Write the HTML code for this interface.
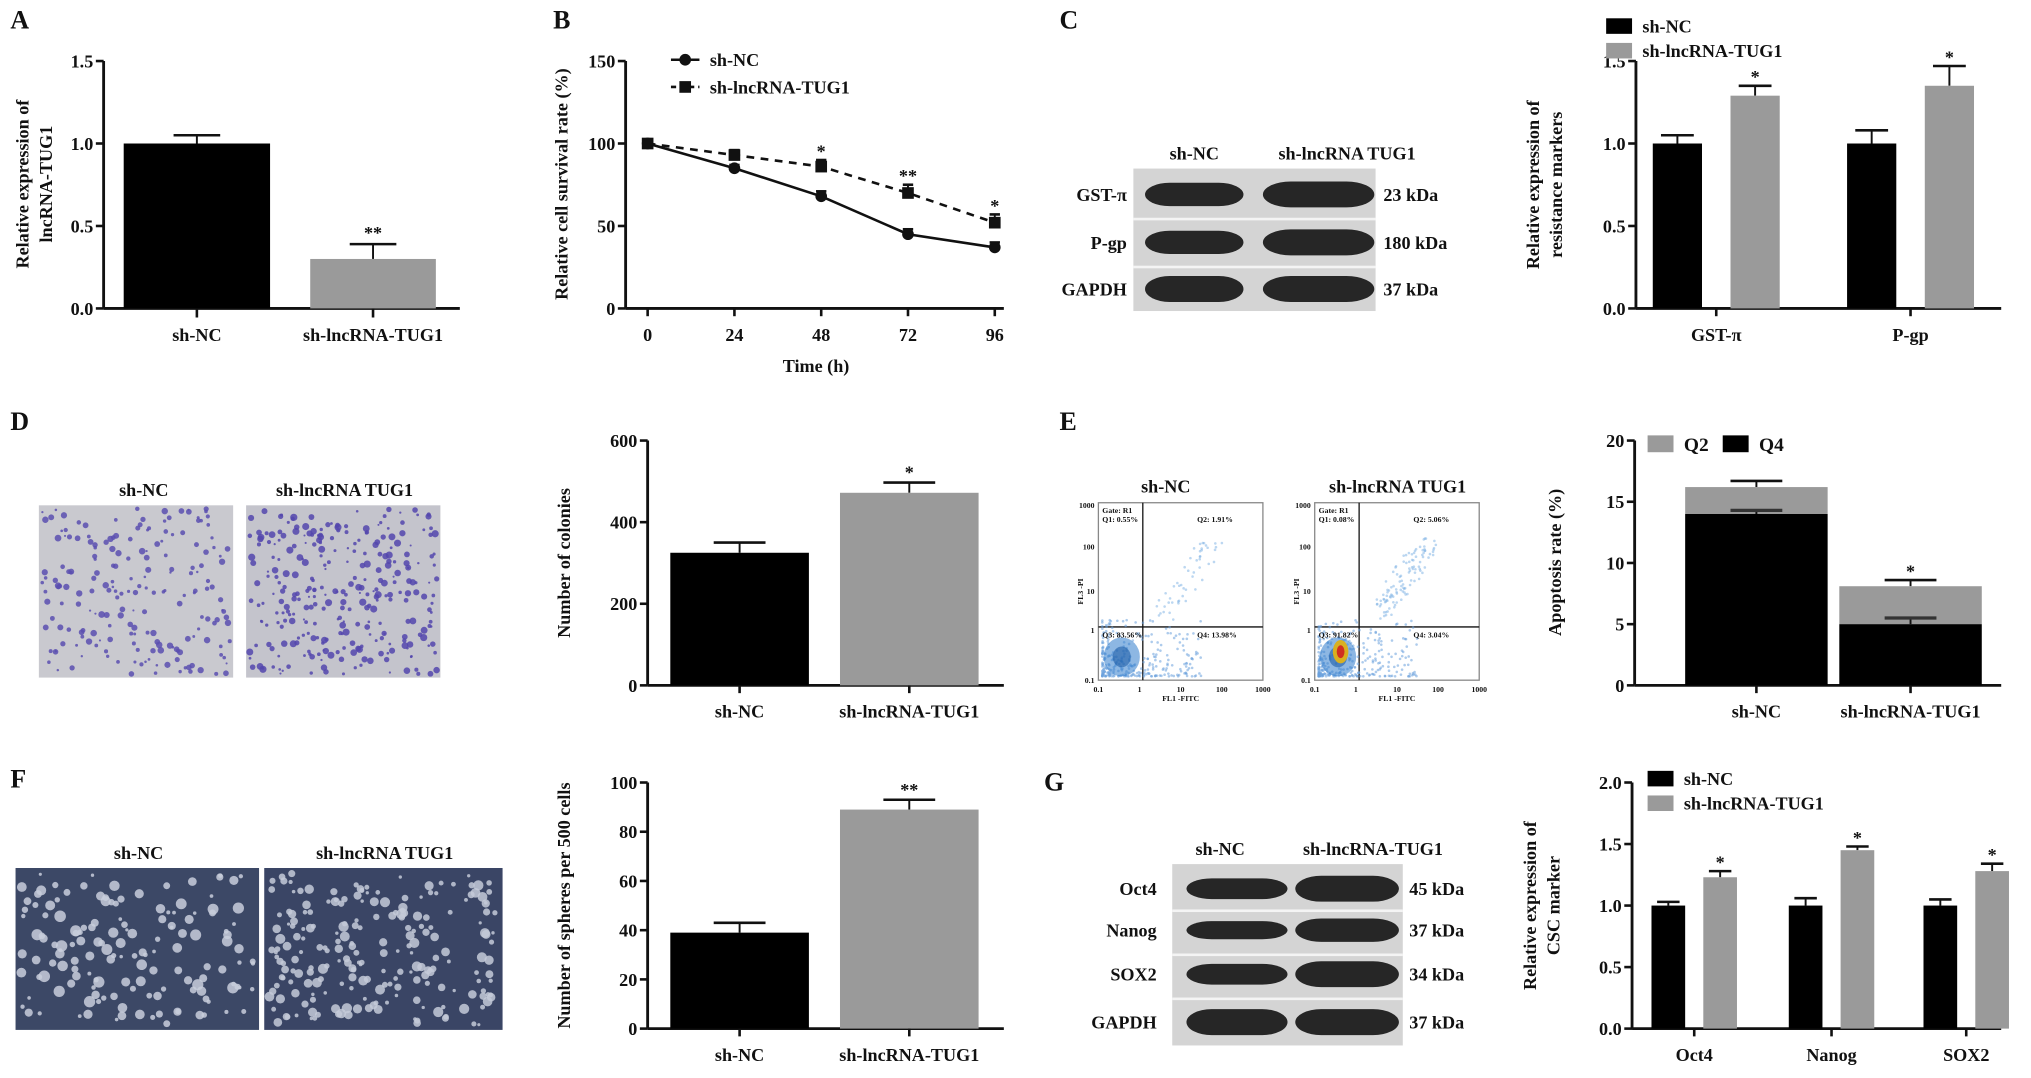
<!DOCTYPE html>
<html><head><meta charset="utf-8"><style>
html,body{margin:0;padding:0;background:#fff;}
svg{display:block;font-family:"Liberation Serif",serif;font-weight:bold;}
</style></head><body>
<svg id="fig" width="2031" height="1078" viewBox="0 0 1568 832" xmlns="http://www.w3.org/2000/svg">
<rect width="1568" height="832" fill="#fff"/>
<g id="root"></g>
</svg>
<script>
// ---- data ----
const aCats = ["sh-NC","sh-lncRNA-TUG1"];
const aVals = [1.0, 0.30];
const aErrs = [0.05, 0.09];
const aTicks = [0,0.5,1.0,1.5];

const bTimes = [0,24,48,72,96];
const bNC = [100,85,68,45,37];
const bNCerr = [2,2,3,3,3];
const bTUG = [100,93,86,70,52];
const bTUGerr = [2,3,4,5,5];
const bTicks = [0,50,100,150];
const bStars = ["","","*","**","*"];

const cGroups = ["GST-π","P-gp"];
const cNC = [1.0,1.0];
const cNCerr = [0.05,0.08];
const cTUG = [1.29,1.35];
const cTUGerr = [0.06,0.12];
const cTicks = [0,0.5,1.0,1.5];

const dCats = ["sh-NC","sh-lncRNA-TUG1"];
const dVals = [325,472];
const dErrs = [25,25];
const dTicks = [0,200,400,600];

const eCats = ["sh-NC","sh-lncRNA-TUG1"];
const eQ4 = [14.0,5.0];
const eQ4err = [0.3,0.5];
const eQ2 = [2.2,3.1];
const eTotErr = [0.5,0.5];
const eTicks = [0,5,10,15,20];

const fCats = ["sh-NC","sh-lncRNA-TUG1"];
const fVals = [39,89];
const fErrs = [4,4];
const fTicks = [0,20,40,60,80,100];

const gGroups = ["Oct4","Nanog","SOX2"];
const gNC = [1.0,1.0,1.0];
const gNCerr = [0.03,0.06,0.05];
const gTUG = [1.23,1.45,1.28];
const gTUGerr = [0.05,0.03,0.06];
const gTicks = [0,0.5,1.0,1.5,2.0];

// ---- helpers ----
const NS="http://www.w3.org/2000/svg";
const root=document.getElementById('root');
function el(tag,attrs,parent,text){const e=document.createElementNS(NS,tag);for(const k in attrs)e.setAttribute(k,attrs[k]);if(text!==undefined)e.textContent=text;(parent||root).appendChild(e);return e;}
function txt(x,y,s,size,name,anchor,parent,rot){const t=el('text',{x:x,y:y,'font-size':size,'text-anchor':anchor||'middle',fill:'#111'},parent,s);
if(rot)t.setAttribute('transform','rotate(-90 '+x+' '+y+')');

return t;}
function line(x1,y1,x2,y2,w,parent,dash){const l=el('line',{x1:x1,y1:y1,x2:x2,y2:y2,stroke:'#111','stroke-width':w||2},parent);if(dash)l.setAttribute('stroke-dasharray',dash);return l;}
function yaxis(g,x,y0,y1,ticks,max,fmt,name){
  line(x,y0,x,y1,2.2,g);
  ticks.forEach(t=>{const y=y0-(t/max)*(y0-y1);line(x-6,y,x,y,2,g);txt(x-8,y+5,fmt(t),14,name+'-tick','end',g);});
}
function errbar(g,cx,yTop,yErr,hw){line(cx,yTop,cx,yErr,1.5,g);line(cx-hw,yErr,cx+hw,yErr,2,g);}
function panelLabel(x,y,s){txt(x,y,s,20,'panel-label-'+s.toLowerCase(),'start');}

// ---- Panel A ----
(function(){
  const g=el('g',{});
  const x0=80,y0=238,y1=47,max=1.5,sy=v=>y0-v/max*(y0-y1);
  yaxis(g,x0,y0,y1,aTicks,max,v=>v.toFixed(1),'a-y');
  line(x0,y0,355,y0,2.2,g);
  const centers=[152,288],w=[113,97],fills=['#000','#9a9a9a'];
  aCats.forEach((c,i)=>{
    errbar(g,centers[i],sy(aVals[i]),sy(aVals[i]+aErrs[i]),18);
    const r=el('rect',{x:centers[i]-w[i]/2,y:sy(aVals[i]),width:w[i],height:y0-sy(aVals[i]),fill:fills[i]},g);
    
    line(centers[i],y0,centers[i],y0+7,2,g);
    txt(centers[i],263,c,14,'a-x-label',null,g);
  });
  txt(centers[1],sy(aVals[1]+aErrs[1])-4,'**',14,'a-sig',null,g);
  txt(22,142,'Relative expression of',14,'a-y-title',null,g,true);
  txt(40,142,'lncRNA-TUG1',14,'a-y-title',null,g,true);
})();
panelLabel(8,22,'A');

// ---- Panel B ----
(function(){
  const g=el('g',{});
  const x0=483,y0=238,y1=47,max=150,sy=v=>y0-v/max*(y0-y1);
  const sx=t=>500+t/96*268;
  yaxis(g,x0,y0,y1,bTicks,max,v=>String(v),'b-y');
  line(x0,y0,775,y0,2.2,g);
  bTimes.forEach(t=>{line(sx(t),y0,sx(t),y0+6,2,g);txt(sx(t),263,String(t),14,'b-x-tick',null,g);});
  txt(630,287,'Time (h)',14,'b-x-title',null,g);
  txt(438,142,'Relative cell survival rate (%)',14,'b-y-title',null,g,true);
  let p1='',p2='';
  bTimes.forEach((t,i)=>{p1+=(i?'L':'M')+sx(t)+' '+sy(bNC[i]);p2+=(i?'L':'M')+sx(t)+' '+sy(bTUG[i]);});
  const l1=el('path',{d:p1,fill:'none',stroke:'#111','stroke-width':2},g);
  const l2=el('path',{d:p2,fill:'none',stroke:'#111','stroke-width':2,'stroke-dasharray':'6 5'},g);
  bTimes.forEach((t,i)=>{
    errbar(g,sx(t),sy(bNC[i]),sy(bNC[i]+bNCerr[i]),4);
    errbar(g,sx(t),sy(bTUG[i]),sy(bTUG[i]+bTUGerr[i]),4);
    const c=el('circle',{cx:sx(t),cy:sy(bNC[i]),r:4.5,fill:'#111'},g);
    const s=el('rect',{x:sx(t)-4.5,y:sy(bTUG[i])-4.5,width:9,height:9,fill:'#111'},g);
    if(bStars[i])txt(sx(t),sy(bTUG[i]+bTUGerr[i])-2,bStars[i],14,'b-sig',null,g);
  });
  line(518,46,540,46,2,g);el('circle',{cx:529,cy:46,r:4.5,fill:'#111'},g);
  txt(548,51,'sh-NC',14,'b-legend-nc','start',g);
  line(518,67,540,67,2,g,'4 3');el('rect',{x:524.5,y:62.5,width:9,height:9,fill:'#111'},g);
  txt(548,72,'sh-lncRNA-TUG1',14,'b-legend-tug1','start',g);
})();
panelLabel(427,22,'B');

// ---- Western blot helper ----
function blot(x,y,w,h,rows,cols,bandW,thick,name,sepLines){
  const g=el('g',{});
  el('rect',{x:x,y:y,width:w,height:h,fill:'#d4d4d4'},g);
  if(sepLines)sepLines.forEach(yy=>el('rect',{x:x,y:yy,width:w,height:2,fill:'#f4f4f4'},g));
  rows.forEach((ry,i)=>cols.forEach((cx,j)=>{
    const e=el('rect',{x:cx-bandW[j]/2,y:ry-thick[i][j],width:bandW[j],height:2*thick[i][j],rx:bandW[j]/4,ry:thick[i][j],fill:'#262626'},g);
    
  }));
  return g;
}

// ---- Panel C ----
panelLabel(818,22,'C');
(function(){
  const rows=[150,187,223];
  blot(875,130,187,110,rows,[922,1018],[76,86],[[9,10],[9,10],[10,10]],'c-western-blot',[168,205]);
  txt(922,123,'sh-NC',14,'c-blot-label');
  txt(1040,123,'sh-lncRNA TUG1',14,'c-blot-label');
  ['GST-π','P-gp','GAPDH'].forEach((s,i)=>{txt(870,rows[i]+5,s,14,'c-row-label','end');});
  ['23 kDa','180 kDa','37 kDa'].forEach((s,i)=>{txt(1068,rows[i]+5,s,14,'c-kda-label','start');});
})();
function groupedChart(opts){
  const g=el('g',{});
  const {x0,y0,y1,max,ticks,fmt,groups,nc,ncErr,tug,tugErr,centers,bw,xEnd}=opts;
  const sy=v=>y0-v/max*(y0-y1);
  yaxis(g,x0,y0,y1,ticks,max,fmt,opts.name+'-y');
  line(x0,y0,xEnd,y0,2.2,g);
  groups.forEach((gr,i)=>{
    const c=centers[i];
    const xa=c-opts.gap/2-bw, xb=c+opts.gap/2;
    errbar(g,xa+bw/2,sy(nc[i]),sy(nc[i]+ncErr[i]),bw/3);
    errbar(g,xb+bw/2,sy(tug[i]),sy(tug[i]+tugErr[i]),bw/3);
    const r1=el('rect',{x:xa,y:sy(nc[i]),width:bw,height:y0-sy(nc[i]),fill:'#000'},g);
    const r2=el('rect',{x:xb,y:sy(tug[i]),width:bw,height:y0-sy(tug[i]),fill:'#9a9a9a'},g);
    txt(xb+bw/2,sy(tug[i]+tugErr[i])-2,'*',14,'sig-star',null,g);
    line(c,y0,c,y0+6,2,g);
    txt(c,y0+25,gr,14,'x-label',null,g);
  });
  const lx=opts.legX,ly=opts.legY;
  el('rect',{x:lx,y:ly-8,width:20,height:12,fill:'#000'},g);
  txt(lx+28,ly+3,'sh-NC',14,'legend-sh-nc','start',g);
  el('rect',{x:lx,y:ly+11,width:20,height:12,fill:'#9a9a9a'},g);
  txt(lx+28,ly+22,'sh-lncRNA-TUG1',14,'legend-sh-lncrna-tug1','start',g);
  opts.title.forEach((t,k)=>txt(opts.titleX+k*18,(y0+y1)/2,t,14,'y-title',null,g,true));
}
groupedChart({name:'panel-c-chart',x0:1263,y0:238,y1:47,max:1.5,ticks:cTicks,fmt:v=>v.toFixed(1),groups:cGroups,nc:cNC,ncErr:cNCerr,tug:cTUG,tugErr:cTUGerr,centers:[1325,1475],bw:38,gap:22,xEnd:1545,legX:1240,legY:22,title:['Relative expression of','resistance markers'],titleX:1188});

// ---- image helper (dotted micrographs) ----
function microImg(x,y,w,h,bg,dot,n,seed,rMin,rMax,name){
  const g=el('g',{});
  el('rect',{x:x,y:y,width:w,height:h,fill:bg},g);
  let s=seed;const rnd=()=>{s=(s*16807)%2147483647;return s/2147483647;};
  for(let i=0;i<n;i++){el('circle',{cx:x+rMax+rnd()*(w-2*rMax),cy:y+rMax+rnd()*(h-2*rMax),r:rMin+rnd()*(rMax-rMin),fill:dot,opacity:0.85},g);}
}

// ---- Panel D ----
panelLabel(8,332,'D');
microImg(30,390,150,133,'#c9c9cf','#5a4fb0',200,11,0.8,2.6,'d-image-sh-nc');
microImg(190,390,150,133,'#c4c4cc','#5447ad',300,37,0.8,2.8,'d-image-sh-lncrna-tug1');
txt(111,383,'sh-NC',14,'d-image-label');
txt(266,383,'sh-lncRNA TUG1',14,'d-image-label');
function simpleBar(opts){
  const g=el('g',{});
  const {x0,y0,y1,max,ticks,cats,vals,errs,centers,bw,stars}=opts;
  const sy=v=>y0-v/max*(y0-y1);
  yaxis(g,x0,y0,y1,ticks,max,v=>String(v),opts.name+'-y');
  line(x0,y0,opts.xEnd,y0,2.2,g);
  cats.forEach((c,i)=>{
    errbar(g,centers[i],sy(vals[i]),sy(vals[i]+errs[i]),20);
    const r=el('rect',{x:centers[i]-bw/2,y:sy(vals[i]),width:bw,height:y0-sy(vals[i]),fill:i?'#9a9a9a':'#000'},g);
    
    line(centers[i],y0,centers[i],y0+6,2,g);
    txt(centers[i],y0+25,c,14,'x-label',null,g);
    if(stars[i])txt(centers[i],sy(vals[i]+errs[i])-3,stars[i],14,'sig-star',null,g);
  });
  txt(opts.titleX,(y0+y1)/2,opts.title,14,'y-title',null,g,true);
}
simpleBar({name:'panel-d-chart',x0:500,y0:529,y1:340,max:600,ticks:dTicks,cats:dCats,vals:dVals,errs:dErrs,centers:[571,702],bw:107,stars:['','*'],xEnd:775,title:'Number of colonies',titleX:440});

// ---- Panel E ----
panelLabel(818,332,'E');
function flow(x,y,w,h,name,q1,q2,q3,q4,hot,seed){
  const g=el('g',{});
  el('rect',{x:x,y:y,width:w,height:h,fill:'#fff',stroke:'#888','stroke-width':1},g);
  const vx=x+w*0.27,hy=y+h*0.7;
  line(vx,y,vx,y+h,1,g);line(x,hy,x+w,hy,1,g);
  let s=seed;const rnd=()=>{s=(s*16807)%2147483647;return s/2147483647;};
  for(let i=0;i<300;i++){const px=x+3+Math.pow(rnd(),2.2)*w*0.6,py=y+h-3-Math.pow(rnd(),2.2)*h*0.32;el('circle',{cx:px,cy:py,r:1,fill:'#6aa0dc',opacity:0.55},g);}
  const n2=hot?110:50;
  for(let i=0;i<n2;i++){const t=rnd();el('circle',{cx:x+w*(0.4+t*0.3)+(rnd()-0.5)*18,cy:y+h*(0.62-t*0.4)+(rnd()-0.5)*18,r:1,fill:'#7ab0e4',opacity:0.5},g);}
  el('ellipse',{cx:x+18,cy:y+h-18,rx:14,ry:15,fill:'#2f7ccc',opacity:0.55},g);
  el('ellipse',{cx:x+18,cy:y+h-18,rx:7,ry:8,fill:'#1f5fa8',opacity:0.6},g);
  if(hot){el('ellipse',{cx:x+20,cy:y+h-22,rx:6,ry:9,fill:'#d9b020'},g);el('ellipse',{cx:x+20,cy:y+h-22,rx:3,ry:5,fill:'#d03020'},g);}
  [['Gate: R1',x+3,y+8],[q1,x+3,y+15],[q2,x+w*0.6,y+15],[q3,x+3,hy+8],[q4,x+w*0.6,hy+8]].forEach(a=>txt(a[1],a[2],a[0],6,'flow-quadrant-label','start',g));
  [['1000',y+2],['100',y+h*0.25],['10',y+h*0.5],['1',y+h*0.72],['0.1',y+h]].forEach(a=>txt(x-3,a[1]+2,a[0],6,'flow-y-tick','end',g));
  [['0.1',x],['1',x+w*0.25],['10',x+w*0.5],['100',x+w*0.75],['1000',x+w]].forEach(a=>txt(a[1],y+h+9,a[0],6,'flow-x-tick',null,g));
  txt(x+w/2,y+h+16,'FL1 -FITC',6,'flow-x-title',null,g);
  txt(x-12,y+h/2,'FL3 -PI',6,'flow-y-title',null,g,true);
}
flow(848,388,127,137,'e-flow-sh-nc','Q1: 0.55%','Q2: 1.91%','Q3: 83.56%','Q4: 13.98%',false,77);
flow(1015,388,127,137,'e-flow-sh-lncrna-tug1','Q1: 0.08%','Q2: 5.06%','Q3: 91.82%','Q4: 3.04%',true,991);
txt(900,380,'sh-NC',14,'e-flow-label');
txt(1079,380,'sh-lncRNA TUG1',14,'e-flow-label');
(function(){
  const g=el('g',{});
  const x0=1262,y0=529,y1=340,max=20,sy=v=>y0-v/max*(y0-y1);
  yaxis(g,x0,y0,y1,eTicks,max,v=>String(v),'e-y');
  line(x0,y0,1545,y0,2.2,g);
  const centers=[1356,1475],bw=110;
  eCats.forEach((c,i)=>{
    const tot=eQ4[i]+eQ2[i];
    errbar(g,centers[i],sy(tot),sy(tot+eTotErr[i]),20);
    const r2=el('rect',{x:centers[i]-bw/2,y:sy(tot),width:bw,height:sy(eQ4[i])-sy(tot),fill:'#9a9a9a'},g);
    const r1=el('rect',{x:centers[i]-bw/2,y:sy(eQ4[i]),width:bw,height:y0-sy(eQ4[i]),fill:'#000'},g);
    line(centers[i],sy(eQ4[i]),centers[i],sy(eQ4[i]+eQ4err[i]),1.5,g);
    const cap=line(centers[i]-20,sy(eQ4[i]+eQ4err[i]),centers[i]+20,sy(eQ4[i]+eQ4err[i]),2.5,g);cap.setAttribute('stroke','#333');
    line(centers[i],y0,centers[i],y0+6,2,g);
    txt(centers[i],y0+25,c,14,'e-x-label',null,g);
  });
  txt(centers[1],sy(eQ4[1]+eQ2[1]+eTotErr[1])-2,'*',14,'e-sig',null,g);
  el('rect',{x:1272,y:336,width:20,height:13,fill:'#9a9a9a'},g);txt(1300,348,'Q2',15,'e-legend-q2','start',g);
  el('rect',{x:1330,y:336,width:20,height:13,fill:'#000'},g);txt(1358,348,'Q4',15,'e-legend-q4','start',g);
  txt(1205,434,'Apoptosis rate (%)',14,'e-y-title',null,g,true);
})();

// ---- Panel F ----
panelLabel(8,608,'F');
microImg(12,670,188,125,'#3c4866','#c8cedc',150,5,1.2,4.5,'f-image-sh-nc');
microImg(204,670,184,125,'#3a4565','#c4cad8',220,29,1.2,4,'f-image-sh-lncrna-tug1');
txt(107,663,'sh-NC',14,'f-image-label');
txt(297,663,'sh-lncRNA TUG1',14,'f-image-label');
simpleBar({name:'panel-f-chart',x0:500,y0:794,y1:604,max:100,ticks:fTicks,cats:fCats,vals:fVals,errs:fErrs,centers:[571,702],bw:107,stars:['','**'],xEnd:775,title:'Number of spheres per 500 cells',titleX:440});

// ---- Panel G ----
panelLabel(806,610,'G');
(function(){
  const rows=[686,718,752,789];
  blot(905,667,178,140,rows,[955,1040],[78,80],[[8,10],[7,9],[8,10],[10,10]],'g-western-blot',[702,736,770]);
  txt(942,660,'sh-NC',14,'g-blot-label');
  txt(1060,660,'sh-lncRNA-TUG1',14,'g-blot-label');
  ['Oct4','Nanog','SOX2','GAPDH'].forEach((s,i)=>txt(893,rows[i]+5,s,14,'g-row-label','end'));
  ['45 kDa','37 kDa','34 kDa','37 kDa'].forEach((s,i)=>txt(1088,rows[i]+5,s,14,'g-kda-label','start'));
})();
groupedChart({name:'panel-g-chart',x0:1260,y0:794,y1:604,max:2.0,ticks:gTicks,fmt:v=>v.toFixed(1),groups:gGroups,nc:gNC,ncErr:gNCerr,tug:gTUG,tugErr:gTUGerr,centers:[1308,1414,1518],bw:26,gap:14,xEnd:1545,legX:1272,legY:603,title:['Relative expression of','CSC marker'],titleX:1186});
</script>
</body></html>
